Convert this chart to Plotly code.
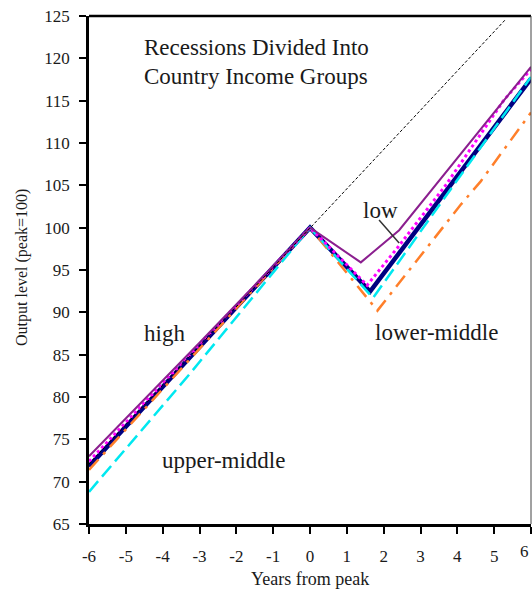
import plotly.graph_objects as go

# ---- data ----
x_low = [-6, -3, 0, 1.38, 2.42, 4.32, 6]
y_low = [73.0, 86.4, 100, 95.9, 99.7, 110.0, 119.0]

x_high = [-6, 0, 1.55, 2.37, 3.69, 5.27, 6]
y_high = [72.4, 100, 93.2, 97.6, 105.05, 115.1, 118.7]

x_all = [-6, 0, 1.63, 3.05, 6]
y_all = [71.8, 100, 92.45, 100.6, 117.6]

x_upper = [-6, -3.29, 0, 1.71, 6]
y_upper = [68.8, 82.6, 100, 91.7, 117.8]

x_lower = [-6, 0, 1.83, 4.09, 4.64, 6]
y_lower = [71.4, 100, 90.2, 102.7, 105.5, 113.6]

x_trend = [-6, 0, 5.29]
y_trend = [72.1, 100, 124.5]

x_ticks = [-6, -5, -4, -3, -2, -1, 0, 1, 2, 3, 4, 5, 6]
x_ticktext = ["-6", "-5", "-4", "-3", "-2", "-1", "0", "1", "2", "3", "4", "5", "6"]
y_ticks = [65, 70, 75, 80, 85, 90, 95, 100, 105, 110, 115, 120, 125]

FONT = "Liberation Serif"
TXT = "#1a1a1a"

fig = go.Figure()
fig.add_trace(go.Scatter(x=x_all, y=y_all, mode="lines", name="all",
                         line=dict(color="#000080", width=4.5)))
fig.add_trace(go.Scatter(x=x_lower, y=y_lower, mode="lines", name="lower-middle",
                         line=dict(color="#FF7F2A", width=2.5, dash="14px,7px,3px,7px")))
fig.add_trace(go.Scatter(x=x_upper, y=y_upper, mode="lines", name="upper-middle",
                         line=dict(color="#00E8F0", width=2.5, dash="14px,6px")))
fig.add_trace(go.Scatter(x=x_high, y=y_high, mode="lines", name="high",
                         line=dict(color="#FF00FF", width=3, dash="dot")))
fig.add_trace(go.Scatter(x=x_low, y=y_low, mode="lines", name="low",
                         line=dict(color="#8B1F8F", width=2)))
fig.add_trace(go.Scatter(x=x_trend, y=y_trend, mode="lines", name="trend",
                         line=dict(color="black", width=1, dash="3px,2px")))

# pointer from "low" label
fig.add_trace(go.Scatter(x=[1.875, 2.42], y=[100.9, 98.2], mode="lines",
                         line=dict(color="#333333", width=1.5), hoverinfo="skip"))

axis_common = dict(showgrid=False, zeroline=False, showline=True, linecolor="black",
                   linewidth=2.5, ticks="outside", tickcolor="black", tickwidth=2,
                   ticklen=7, tickfont=dict(family=FONT, size=17, color=TXT))

fig.update_xaxes(range=[-6, 6], tickvals=x_ticks, ticktext=x_ticktext,
                 ticklabelstandoff=8, **axis_common)
fig.update_yaxes(range=[65, 125], tickvals=y_ticks, ticklabelstandoff=6, **axis_common)

W, H = 532, 595
L, R, T, B = 89, 1, 16, 71
pw, ph = W - L - R, H - T - B

annots = [
    dict(x=142, y=47, text="Recessions Divided Into", xanchor="left", size=23),
    dict(x=142, y=76, text="Country Income Groups", xanchor="left", size=23),
    dict(x=142, y=333, text="high", xanchor="left", size=23),
    dict(x=160, y=460, text="upper-middle", xanchor="left", size=23),
    dict(x=361, y=210, text="low", xanchor="left", size=23),
    dict(x=373, y=332, text="lower-middle", xanchor="left", size=23),
]
for a in annots:
    fig.add_annotation(x=(a["x"] - L) / pw, y=1 - (a["y"] - T) / ph, xref="paper", yref="paper",
                       text=a["text"], showarrow=False, xanchor=a["xanchor"], yanchor="middle",
                       font=dict(family=FONT, size=a["size"], color=TXT))

# last x tick label at the right figure edge
fig.add_annotation(x=1.0, y=-(551 - T - ph) / ph, xref="paper", yref="paper",
                   text="6", showarrow=False, xanchor="right", yanchor="middle",
                   font=dict(family=FONT, size=17, color=TXT))

fig.add_annotation(x=0.5, y=-(579 - T - ph) / ph, xref="paper", yref="paper",
                   text="Years from peak", showarrow=False, xanchor="center", yanchor="middle",
                   font=dict(family=FONT, size=18, color=TXT))
fig.add_annotation(x=(22 - L) / pw, y=1 - (268 - T) / ph, xref="paper", yref="paper",
                   text="Output level (peak=100)", showarrow=False, textangle=-90,
                   xanchor="center", yanchor="middle",
                   font=dict(family=FONT, size=16, color=TXT))

# top and right borders
fig.add_shape(type="line", xref="paper", yref="paper", x0=0, x1=1, y0=1, y1=1,
              line=dict(color="black", width=2.5))
fig.add_shape(type="line", xref="paper", yref="paper", x0=1, x1=1, y0=0, y1=1,
              line=dict(color="#444444", width=1))

fig.update_layout(width=W, height=H, margin=dict(l=L, r=R, t=T, b=B),
                  paper_bgcolor="white", plot_bgcolor="white", showlegend=False)

fig.write_html("out.html")
